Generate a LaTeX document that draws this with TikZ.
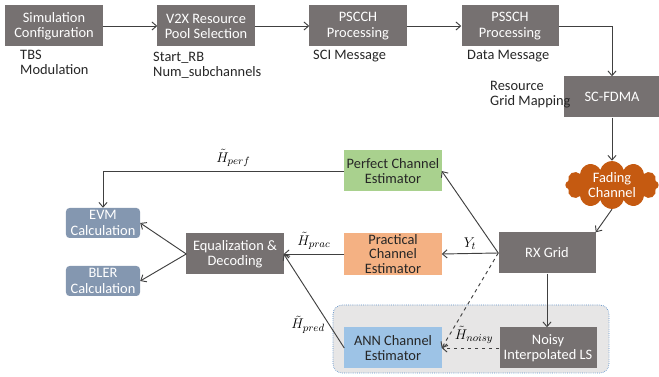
\documentclass[tikz,border=0pt]{standalone}
\usepackage{fontspec}
\setmainfont{Carlito}
\usetikzlibrary{shapes.symbols,arrows.meta,positioning}
\definecolor{boxgray}{HTML}{767171}
\definecolor{linegray}{HTML}{404040}
\definecolor{estgreen}{HTML}{A9D18E}
\definecolor{estorange}{HTML}{F4B183}
\definecolor{annblue}{HTML}{9DC3E6}
\definecolor{calcblue}{HTML}{8497B0}
\definecolor{cloudorange}{HTML}{C55A11}
\definecolor{bggray}{HTML}{E7E6E6}
\definecolor{dotblue}{HTML}{5B8FC9}
\begin{document}
\begin{tikzpicture}[x=0.03cm,y=-0.03cm,font=\fontsize{12.3}{13}\selectfont,
	blk/.style={fill=boxgray,text=white,minimum width=2.91cm,minimum height=1.23cm,align=center,inner sep=1pt},
	est/.style={text=black!85,minimum width=2.91cm,minimum height=1.23cm,align=center,inner sep=1pt},
	calcbox/.style={rounded corners=3pt,fill=calcblue,text=white,minimum width=2.22cm,minimum height=0.9cm,align=center,inner sep=1pt},
	note/.style={anchor=north west,align=left,inner sep=0pt,text=black!85},
	conn/.style={draw=linegray,line width=0.8pt,-{Straight Barb[length=4pt,width=7pt]}}]
				\useasboundingbox (0,0) rectangle (659,377);
				% zone of the ANN estimator
				\draw[fill=bggray,draw=dotblue,line width=0.6pt,densely dotted,rounded corners=8pt] (333,305) rectangle (609,373);
				% transmitter chain
				\node[blk] (simcfg) at (54,26) {Simulation\\Configuration};
				\node[blk] (pool) at (206,26) {V2X Resource\\Pool Selection};
				\node[blk] (pscch) at (358,26) {PSCCH\\Processing};
				\node[blk] (pssch) at (510,26) {PSSCH\\Processing};
				\node[blk] (scfdma) at (612,97) {SC-FDMA};
				\node[note] (tbs) at (20,50) {TBS\\Modulation};
				\node[note] (rb) at (153,52) {Start\_RB\\Num\_subchannels};
				\node[note] (sci) at (313,50) {SCI Message};
				\node[note] (data) at (467,50) {Data Message};
				\node[note] (gridmap) at (490,81) {Resource\\Grid Mapping};
				% channel
				\node[cloud,cloud puffs=12,cloud ignores aspect,fill=cloudorange,text=white,minimum width=2.8cm,minimum height=1.38cm,align=center,inner sep=0pt] (fade) at (612,185) {Fading\\Channel};
				% receiver
				\node[blk] (rx) at (547,253) {RX Grid};
				\node[est,fill=estgreen] (perfect) at (393,171) {Perfect Channel\\Estimator};
				\node[est,fill=estorange,font=\fontsize{12.3}{12.5}\selectfont] (prac) at (393,254) {Practical\\Channel\\Estimator};
				\node[blk] (eq) at (235,254) {Equalization \&\\Decoding};
				\node[calcbox] (evm) at (103,223) {EVM\\Calculation};
				\node[calcbox] (bler) at (103,281) {BLER\\Calculation};
				\node[est,fill=annblue] (ann) at (393,348) {ANN Channel\\Estimator};
				\node[blk] (noisy) at (548,348) {Noisy\\Interpolated LS};
				% connectors
				\draw[conn] (simcfg) -- (pool);
				\draw[conn] (pool) -- (pscch);
				\draw[conn] (pscch) -- (pssch);
				\draw[conn] (pssch.east) -| (scfdma.north);
				\draw[conn] (scfdma) -- (fade);
				\draw[conn] (fade.south) -- (rx.north east);
				\draw[conn] (rx.west) -- (prac.east) node[midway,above] {$Y_t$};
				\draw[conn] (rx.west) -- (perfect.east);
				\draw[conn] (perfect.west) -| (evm.north) node[pos=0.23,above] {$\tilde{H}_{perf}$};
				\draw[conn] (eq.west) -- (evm.east);
				\draw[conn] (eq.west) -- (bler.east);
				\draw[conn] (prac.west) -- (eq.east) node[midway,above] {$\tilde{H}_{prac}$};
				\draw[conn] (ann.west) -- (eq.east) node[pos=0.25,left] {$\tilde{H}_{pred}$};
				\draw[conn,dashed] (rx.west) -- (ann.east);
				\draw[conn,dashed] (noisy.west) -- (ann.east) node[midway,above,xshift=3pt] {$\tilde{H}_{noisy}$};
				\draw[conn] (rx.south) -- (rx.south |- noisy.north);
\end{tikzpicture}
\end{document}
